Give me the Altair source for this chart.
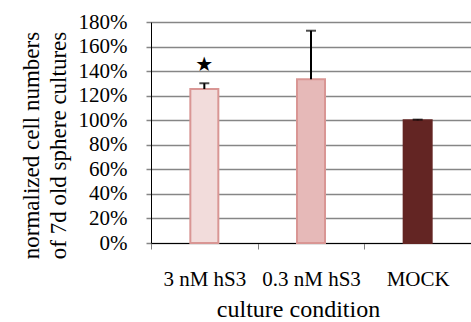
import altair as alt
import pandas as pd

categories = ["3 nM hS3", "0.3 nM hS3", "MOCK"]
values = [1.254, 1.333, 1.0]
errors = [0.047, 0.396, 0.005]
fills = ["#f2dcdb", "#e6b9b8", "#632523"]
strokes = ["#d99694", "#d99694", "#632523"]
star_cat = ["3 nM hS3"]
star_val = [1.45]

df = pd.DataFrame({
    "cat": categories,
    "val": values,
    "top": [v + e for v, e in zip(values, errors)],
    "fill": fills,
    "stroke": strokes,
})
star_df = pd.DataFrame({"cat": star_cat, "val": star_val, "t": ["★"]})

FONT = "Liberation Serif"

x_axis = alt.Axis(
    title="culture condition", titleFont=FONT, titleFontSize=24,
    titleFontWeight="normal", titleColor="black", titlePadding=8,
    titleX=147,
    labelFont=FONT, labelFontSize=21, labelColor="black", labelAngle=0,
    labelPadding=19,
    tickBand="extent", tickSize=6, tickColor="#7f7f7f", tickWidth=1,
    domainColor="black", domainWidth=1, grid=False,
)
x_scale = alt.Scale(paddingInner=0, paddingOuter=0)

y_scale = alt.Scale(domain=[0, 1.8], nice=False)
y_axis = alt.Axis(
    title=["normalized cell numbers", "of 7d old sphere cultures"],
    titleFont=FONT, titleFontSize=23, titleFontWeight="normal",
    titleColor="black", titlePadding=8, titleLineHeight=27, titleY=123,
    labelFont=FONT, labelFontSize=21, labelColor="black", labelPadding=19,
    labelOverlap=False,
    format=".0%", values=[0, 0.2, 0.4, 0.6, 0.8, 1.0, 1.2, 1.4, 1.6, 1.8],
    tickSize=5, tickColor="#868686", tickWidth=1.5,
    grid=True, gridColor="#868686", gridWidth=1.5,
    domainColor="black", domainWidth=1,
)


def xe():
    return alt.X("cat:N", sort=categories, scale=x_scale, axis=x_axis)


def ye(field):
    return alt.Y(field, type="quantitative", scale=y_scale, axis=y_axis)


bars = alt.Chart(df).mark_bar(size=28, strokeWidth=2).encode(
    x=xe(),
    y=ye("val"),
    fill=alt.Fill("fill:N", scale=None),
    stroke=alt.Stroke("stroke:N", scale=None),
)

err_rule = alt.Chart(df).mark_rule(color="black", strokeWidth=2).encode(
    x=xe(),
    y=ye("val"),
    y2="top:Q",
)

err_cap = alt.Chart(df).mark_tick(color="black", size=10, thickness=2).encode(
    x=xe(),
    y=ye("top"),
)

star = alt.Chart(star_df).mark_text(
    fontSize=20, font="DejaVu Sans", color="black", baseline="middle"
).encode(
    x=xe(),
    y=ye("val"),
    text="t:N",
)

chart = alt.layer(bars, err_rule, err_cap, star).properties(
    width=320, height=221,
    autosize=alt.AutoSizeParams(type="none"),
    padding={"left": 151, "top": 22, "right": 0, "bottom": 79},
    background="white",
).configure(font=FONT).configure_view(stroke=None).configure_axis(
    labelFont=FONT, titleFont=FONT
).configure_axisY(labelOverlap=False)

chart.save("out.html", embed_options={"renderer": "svg", "actions": False})
